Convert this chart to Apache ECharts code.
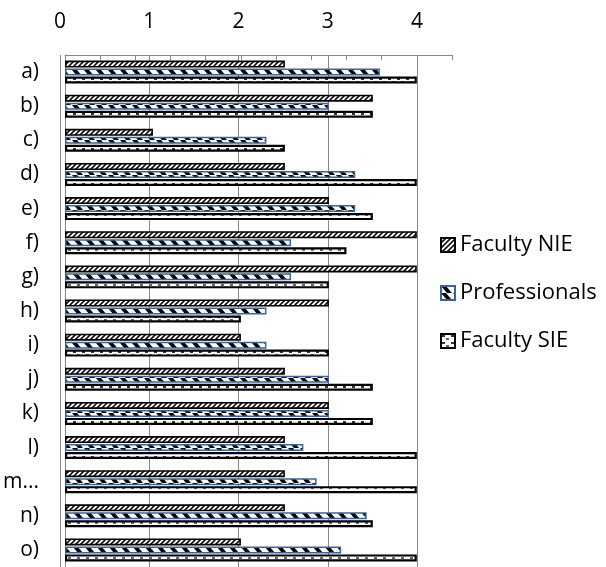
<!DOCTYPE html>
<html>
<head>
<meta charset="utf-8">
<script src="https://cdn.jsdelivr.net/npm/echarts@6/dist/echarts.min.js"></script>
<style>
html,body{margin:0;padding:0;background:#fff;}
#chart{width:606px;height:567px;}
</style>
</head>
<body>
<div id="chart"></div>
<script>
const categories = ['a)','b)','c)','d)','e)','f)','g)','h)','i)','j)','k)','l)','m...','n)','o)'];
const seriesNames = ['Faculty NIE','Professionals','Faculty SIE'];
const facultyNIE = [2.5,3.5,1,2.5,3,4,4,3,2,2.5,3,2.5,2.5,2.5,2];
const professionals = [3.58,3.0,2.29,3.3,3.3,2.57,2.57,2.29,2.29,3.0,3.0,2.71,2.86,3.43,3.14];
const facultySIE = [4,3.5,2.5,4,3.5,3.2,3,2,3,3.5,3.5,4,4,3.5,4];
const xTickLabels = ['0','1','2','3','4'];

function makePattern(w, h, draw) {
  const c = document.createElement('canvas');
  c.width = w; c.height = h;
  const ctx = c.getContext('2d');
  ctx.fillStyle = '#ffffff';
  ctx.fillRect(0, 0, w, h);
  draw(ctx);
  return { image: c, repeat: 'repeat' };
}
const patNIE = makePattern(5, 5, ctx => {
  ctx.strokeStyle = '#111';
  ctx.lineWidth = 1.6;
  ctx.beginPath();
  ctx.moveTo(0, 5); ctx.lineTo(5, 0);
  ctx.moveTo(-1, 1); ctx.lineTo(1, -1);
  ctx.moveTo(4, 6); ctx.lineTo(6, 4);
  ctx.stroke();
});
const patProf = makePattern(12, 7, ctx => {
  ctx.fillStyle = '#000';
  [-12, 0, 12].forEach(o => {
    ctx.beginPath();
    ctx.moveTo(o + 0, 0); ctx.lineTo(o + 5, 0); ctx.lineTo(o + 11, 7); ctx.lineTo(o + 6, 7); ctx.closePath();
    ctx.fill();
  });
});
const patSIE = makePattern(9, 7, ctx => {
  ctx.fillStyle = '#333';
  ctx.fillRect(1, 1, 3, 2);
  ctx.fillStyle = '#666';
  ctx.fillRect(5, 4, 3, 2);
});

const labelFont = '"Open Sans", "Liberation Sans", sans-serif';
const chart = echarts.init(document.getElementById('chart'), null, {renderer: 'canvas'});
chart.setOption({
  animation: false,
  backgroundColor: '#ffffff',
  textStyle: { fontFamily: labelFont },
  grid: [
    { left: 60, top: 55, width: 392, height: 516, containLabel: false },
    { left: 60, top: 55, width: 357, height: 516, containLabel: false }
  ],
  legend: {
    orient: 'vertical',
    left: 435,
    top: 229,
    icon: 'rect',
    itemWidth: 14,
    itemHeight: 14,
    itemGap: 26,
    textStyle: { fontSize: 22, color: '#000', fontFamily: labelFont },
    data: seriesNames
  },
  xAxis: [
    {
      gridIndex: 0, type: 'value', position: 'top', min: 0, max: 4.4, interval: 0.4,
      axisLine: { show: true, lineStyle: { color: '#868686', width: 1 } },
      axisTick: { show: true, inside: true, length: 5, lineStyle: { color: '#868686' } },
      axisLabel: { show: false },
      splitLine: { show: false }
    },
    {
      gridIndex: 1, type: 'value', position: 'top', min: 0, max: 4, interval: 1,
      axisLine: { show: false },
      axisTick: { show: false },
      axisLabel: { show: true, margin: 22, fontSize: 21, color: '#000', fontFamily: labelFont,
        formatter: (v) => xTickLabels[Math.round(v)] },
      splitLine: { show: true, lineStyle: { color: '#868686', width: 1 } }
    }
  ],
  yAxis: [
    {
      gridIndex: 0, type: 'category', inverse: true, data: categories,
      axisLine: { show: true, lineStyle: { color: '#868686', width: 1 } },
      axisTick: { show: false },
      axisLabel: { margin: 26, fontSize: 21, color: '#000', fontFamily: labelFont },
      splitLine: { show: false }
    },
    {
      gridIndex: 1, type: 'category', inverse: true, data: categories, show: false
    }
  ],
  series: [
    {
      name: seriesNames[0], type: 'bar', xAxisIndex: 0, yAxisIndex: 0,
      data: facultyNIE, barWidth: 7, barGap: '14%',
      itemStyle: { color: patNIE, borderColor: '#000', borderWidth: 1.6 }
    },
    {
      name: seriesNames[1], type: 'bar', xAxisIndex: 0, yAxisIndex: 0,
      data: professionals, barWidth: 7, barGap: '14%',
      itemStyle: { color: patProf, borderColor: '#3B659A', borderWidth: 1.5 }
    },
    {
      name: seriesNames[2], type: 'bar', xAxisIndex: 0, yAxisIndex: 0,
      data: facultySIE, barWidth: 7, barGap: '14%',
      itemStyle: { color: patSIE, borderColor: '#000', borderWidth: 2.2 }
    }
  ]
});
</script>
</body>
</html>
